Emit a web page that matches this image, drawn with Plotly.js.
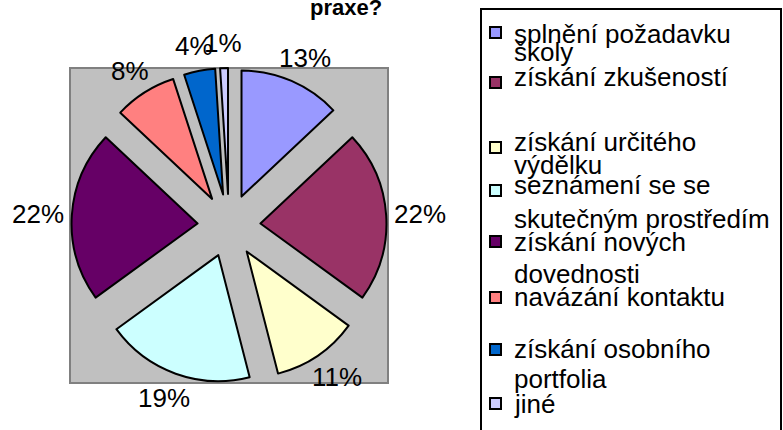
<!DOCTYPE html>
<html><head><meta charset="utf-8">
<script src="https://cdn.plot.ly/plotly-3.0.1.min.js"></script>
<style>html,body{margin:0;padding:0;background:#fff}</style>
</head><body>
<div id="chart" style="width:783px;height:430px"></div>
<script>
// Data
const labelLines = [
  ["splnění požadavku", "školy"],
  ["získání zkušeností"],
  ["získání určitého", "výdělku"],
  ["seznámení se se", "skutečným prostředím"],
  ["získání nových", "dovednosti"],
  ["navázání kontaktu"],
  ["získání osobního", "portfolia"],
  ["jiné"]
];
const labels = labelLines.map(l => l.join(" "));
const values = [13, 22, 11, 19, 22, 8, 4, 1];
const titleText = "praxe?";

// Styles
const colors = ["#9999FF", "#993366", "#FFFFCC", "#CCFFFF", "#660066", "#FF8080", "#0066CC", "#CCCCFF"];
const W = 783, H = 430;
const px = x => x / W, py = y => 1 - y / H;
const box = {x0: 70, x1: 388, y0: 68, y1: 383};
const fontFam = "Liberation Sans, Arial, sans-serif";
const pctSize = 26;

// legend layout (pixel positions)
const legendMarkerTop = [27, 77, 142, 185, 236, 292, 344, 398];
const legendLineBaselines = [[42, 60], [85], [150, 173], [193, 227], [250, 282], [305], [357, 387], [412]];

const shapes = [
  {type: "rect", xref: "paper", yref: "paper", layer: "below",
   x0: px(box.x0), x1: px(box.x1), y0: py(box.y1), y1: py(box.y0),
   fillcolor: "#C0C0C0", line: {color: "#808080", width: 2}},
  {type: "rect", xref: "paper", yref: "paper",
   x0: px(481), x1: px(781), y0: py(432), y1: py(9),
   fillcolor: "rgba(0,0,0,0)", line: {color: "#000", width: 2}}
];
const annotations = [
  {text: "<b>" + titleText + "</b>", xref: "paper", yref: "paper", x: px(346), y: py(8),
   xanchor: "center", yanchor: "middle", showarrow: false,
   font: {family: fontFam, size: 22, color: "#000"}}
];
labelLines.forEach((lines, i) => {
  const t = legendMarkerTop[i];
  shapes.push({type: "rect", xref: "paper", yref: "paper",
    x0: px(490), x1: px(501), y0: py(t + 11), y1: py(t),
    fillcolor: colors[i], line: {color: "#000", width: 2}});
  lines.forEach((ln, j) => {
    const b = legendLineBaselines[i][j];
    annotations.push({text: ln, xref: "paper", yref: "paper", x: px(512), y: py(b - 8),
      xanchor: "left", yanchor: "middle", showarrow: false,
      font: {family: fontFam, size: 26, color: "#000"}});
  });
});

// percentage labels outside the pie, placed along each slice's middle angle
const cx = (box.x0 + box.x1) / 2, cy = (box.y0 + box.y1) / 2;
const labelR = 170;
const total = values.reduce((a, b) => a + b, 0);
let cum = 0;
values.forEach(v => {
  const a = (cum + v / 2) / total * 2 * Math.PI;
  cum += v;
  const txt = Math.round(v / total * 100) + "%";
  const w = txt.length * pctSize * 0.55, h = pctSize;
  const x = cx + labelR * Math.sin(a) + (w / 2) * Math.sin(a);
  const y = cy - labelR * Math.cos(a) - (h / 2) * Math.cos(a);
  annotations.push({text: txt, xref: "paper", yref: "paper", x: px(x), y: py(y),
    xanchor: "center", yanchor: "middle", showarrow: false,
    font: {family: fontFam, size: pctSize, color: "#000"}});
});

const trace = {
  type: "pie",
  labels: labels,
  values: values,
  sort: false,
  direction: "clockwise",
  rotation: 0,
  pull: values.map(() => 0.25),
  marker: {colors: colors, line: {color: "#000", width: 2}},
  textinfo: "none",
  textposition: "none",
  hoverinfo: "label+percent",
  domain: {x: [px(box.x0), px(box.x1)], y: [py(box.y1), py(box.y0)]}
};

const layout = {
  width: W, height: H,
  margin: {l: 0, r: 0, t: 0, b: 0},
  paper_bgcolor: "#fff",
  showlegend: false,
  shapes: shapes,
  annotations: annotations
};
Plotly.newPlot("chart", [trace], layout, {displayModeBar: false, staticPlot: true});
</script>
</body></html>
